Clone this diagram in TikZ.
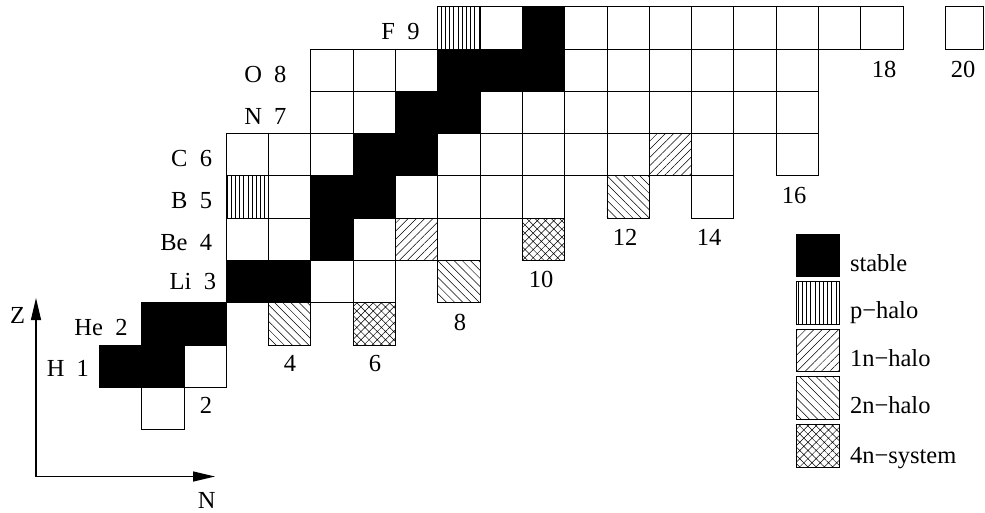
\documentclass[tikz,border=0pt]{standalone}
\usepackage{fontspec}
\setmainfont{Liberation Serif}
\usetikzlibrary{patterns.meta,arrows.meta}
\begin{document}
\begin{tikzpicture}[x=1pt,y=-1pt,
  every node/.style={font=\fontsize{24.5}{28}\selectfont, inner sep=0pt, outer sep=0pt},
  cellbox/.style={draw=black, line width=0.8pt, minimum width=42.3pt, minimum height=42.3pt, anchor=north west},
  legbox/.style={cellbox, minimum width=43pt, minimum height=42.6pt},
  iswhite/.style={fill=white},
  isstable/.style={fill=black},
  isp/.style={pattern={Lines[angle=90,distance=4.2pt,line width=0.5pt]}},
  isone/.style={pattern={Lines[angle=45,distance=5.8pt,line width=0.5pt]}},
  istwo/.style={pattern={Lines[angle=-45,distance=5.8pt,line width=0.5pt]}},
  isfour/.style={pattern={Hatch[angle=45,distance=5.8pt,line width=0.5pt]}},
  elabel/.style={anchor=base east},
  nlabel/.style={anchor=base},
  leglabel/.style={anchor=base west},
  axis/.style={line width=1.3pt, -{Triangle[length=22pt,width=10pt]}}
]
\useasboundingbox (0,0) rectangle (985,512);
% nuclide cells: N/Z/kind
\foreach \n/\z/\k in {
  1/0/iswhite,
  0/1/isstable, 1/1/isstable, 2/1/iswhite,
  1/2/isstable, 2/2/isstable, 4/2/istwo, 6/2/isfour,
  3/3/isstable, 4/3/isstable, 5/3/iswhite, 6/3/iswhite, 8/3/istwo,
  3/4/iswhite, 4/4/iswhite, 5/4/isstable, 6/4/iswhite, 7/4/isone, 8/4/iswhite, 10/4/isfour,
  3/5/isp, 4/5/iswhite, 5/5/isstable, 6/5/isstable, 7/5/iswhite, 8/5/iswhite, 9/5/iswhite, 10/5/iswhite, 12/5/istwo, 14/5/iswhite,
  3/6/iswhite, 4/6/iswhite, 5/6/iswhite, 6/6/isstable, 7/6/isstable, 8/6/iswhite, 9/6/iswhite, 10/6/iswhite, 11/6/iswhite, 12/6/iswhite, 13/6/isone, 14/6/iswhite, 16/6/iswhite,
  5/7/iswhite, 6/7/iswhite, 7/7/isstable, 8/7/isstable, 9/7/iswhite, 10/7/iswhite, 11/7/iswhite, 12/7/iswhite, 13/7/iswhite, 14/7/iswhite, 15/7/iswhite, 16/7/iswhite,
  5/8/iswhite, 6/8/iswhite, 7/8/iswhite, 8/8/isstable, 9/8/isstable, 10/8/isstable, 11/8/iswhite, 12/8/iswhite, 13/8/iswhite, 14/8/iswhite, 15/8/iswhite, 16/8/iswhite,
  8/9/isp, 9/9/iswhite, 10/9/isstable, 11/9/iswhite, 12/9/iswhite, 13/9/iswhite, 14/9/iswhite, 15/9/iswhite, 16/9/iswhite, 17/9/iswhite, 18/9/iswhite}
  \node[cellbox, \k] (c\z-\n) at ({99.3+42.3*\n},{387.3-42.3*\z}) {};
% last cell at the right edge of the picture
\node[cellbox, iswhite, minimum width=38.2pt] (c9-20) at (945.3,6.6) {};

% element labels
\node[elabel] (lH)  at (89,376.5) {H\ \ 1};
\node[elabel] (lHe) at (127.5,335) {He\ \ 2};
\node[elabel] (lLi) at (216,289) {Li\ \ 3};
\node[elabel] (lBe) at (212,250) {Be\ \ 4};
\node[elabel] (lB)  at (212,208) {B\ \ 5};
\node[elabel] (lC)  at (212,166.5) {C\ \ 6};
\node[elabel] (lN)  at (286.5,124) {N\ \ 7};
\node[elabel] (lO)  at (286.5,82.5) {O\ \ 8};
\node[elabel] (lF)  at (419.5,39.3) {F\ \ 9};

% neutron-number labels
\node[nlabel] (n2)  at (206,413.3) {2};
\node[nlabel] (n4)  at (290,371.7) {4};
\node[nlabel] (n6)  at (375,371.7) {6};
\node[nlabel] (n8)  at (460,330.5) {8};
\node[nlabel] (n10) at (541,287.3) {10};
\node[nlabel] (n12) at (625,245.5) {12};
\node[nlabel] (n14) at (709,245.5) {14};
\node[nlabel] (n16) at (794,203) {16};
\node[nlabel] (n18) at (884,77) {18};
\node[nlabel] (n20) at (963,77) {20};

% axes
\coordinate (o)  at (36,476.5);
\coordinate (zt) at (36,298);
\coordinate (nt) at (215,476.5);
\draw[axis] (o) -- (zt);
\draw[axis] (o) -- (nt);
\node[anchor=base] (zl) at (17.5,323.3) {Z};
\node[anchor=base] (nl) at (206.7,508.3) {N};

% legend
\node[legbox, isstable] (k1) at (796.7,234) {};
\node[legbox, isp]      (k2) at (796.7,281.6) {};
\node[legbox, isone]    (k3) at (796.7,329.2) {};
\node[legbox, istwo]    (k4) at (796.7,376.8) {};
\node[legbox, isfour]   (k5) at (796.7,424.4) {};
\node[leglabel] (t1) at (850,271.7) {stable};
\node[leglabel] (t2) at (850,318.5) {p−halo};
\node[leglabel] (t3) at (850,366.5) {1n−halo};
\node[leglabel] (t4) at (850,413.5) {2n−halo};
\node[leglabel] (t5) at (850,463) {4n−system};
\end{tikzpicture}
\end{document}
